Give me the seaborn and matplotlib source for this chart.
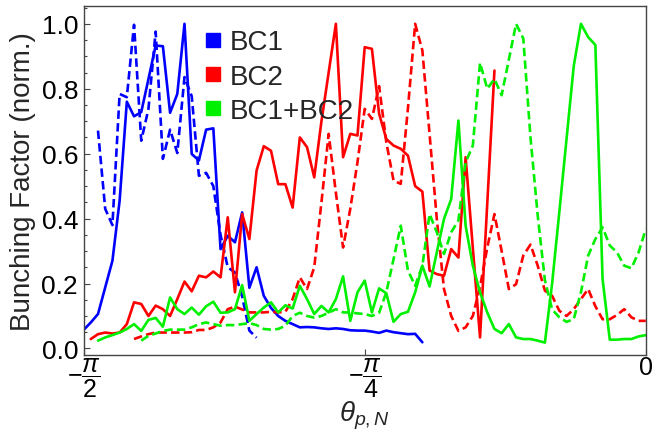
import numpy as np
import pandas as pd
import matplotlib
matplotlib.use('Agg')
import matplotlib.pyplot as plt
import seaborn as sns
from matplotlib.lines import Line2D

# theta grid: 79 samples from -pi/2 to 0
theta = np.linspace(-np.pi / 2, 0, 79)

# values (normalised bunching factor); each series
# starts at grid index *_start
bc1_start = 0
bc1 = [0.057, 0.08, 0.106, 0.188, 0.270, 0.455, 0.760, 0.715, 0.728, 0.83,
       0.933, 0.931, 0.726, 0.784, 1.0, 0.599, 0.579, 0.674, 0.678, 0.306,
       0.347, 0.327, 0.419, 0.187, 0.25, 0.162, 0.125, 0.10, 0.085, 0.075,
       0.065, 0.066, 0.065, 0.062, 0.060, 0.062, 0.060, 0.056, 0.055, 0.055,
       0.052, 0.048, 0.055, 0.050, 0.047, 0.044, 0.045, 0.019]

bc1_d_start = 2
bc1_d = [0.671, 0.43, 0.38, 0.784, 0.774, 0.997, 0.64, 0.738, 0.976, 0.584,
         0.674, 0.602, 0.836, 0.777, 0.532, 0.541, 0.50, 0.35, 0.25, 0.234,
         0.16, 0.055, 0.033]

bc2_start = 1
bc2 = [0.029, 0.044, 0.049, 0.046, 0.049, 0.075, 0.142, 0.137, 0.10, 0.132,
       0.121, 0.10, 0.152, 0.206, 0.176, 0.224, 0.219, 0.237, 0.219, 0.404,
       0.173, 0.414, 0.337, 0.548, 0.623, 0.609, 0.506, 0.506, 0.434, 0.65,
       0.62, 0.527, 0.70, 0.85, 1.0, 0.589, 0.661, 0.656, 0.928, 0.923,
       0.723, 0.645, 0.625, 0.615, 0.594, 0.50, 0.483, 0.24, 0.229, 0.224,
       0.306, 0.28, 0.589, 0.31, 0.034, 0.445, 0.856]

bc2_d_start = 7
bc2_d = [0.029, 0.037, 0.044, 0.049, 0.049, 0.049, 0.049, 0.049, 0.05, 0.057,
         0.057, 0.065, 0.08, 0.121, 0.129, 0.12, 0.111, 0.111, 0.111, 0.113,
         0.111, 0.113, 0.152, 0.219, 0.183, 0.25, 0.45, 0.661, 0.48, 0.311,
         0.43, 0.574, 0.738, 0.707, 0.808, 0.635, 0.517, 0.507, 0.74, 1.0,
         0.918, 0.66, 0.40, 0.183, 0.10, 0.054, 0.065, 0.10, 0.19, 0.31,
         0.414, 0.30, 0.183, 0.198, 0.286, 0.32, 0.255, 0.178, 0.162, 0.116,
         0.10, 0.121, 0.152, 0.183, 0.13, 0.09, 0.09, 0.103, 0.121, 0.096,
         0.085, 0.085]

both_start = 2
both = [0.024, 0.034, 0.041, 0.049, 0.06, 0.075, 0.054, 0.088, 0.094, 0.067,
        0.157, 0.121, 0.106, 0.126, 0.104, 0.13, 0.144, 0.11, 0.111, 0.121,
        0.195, 0.085, 0.106, 0.126, 0.142, 0.111, 0.133, 0.123, 0.193, 0.152,
        0.106, 0.131, 0.111, 0.152, 0.222, 0.085, 0.173, 0.209, 0.111, 0.185,
        0.17, 0.082, 0.106, 0.113, 0.173, 0.255, 0.191, 0.296, 0.399, 0.46,
        0.702, 0.378, 0.255, 0.173, 0.111, 0.06, 0.047, 0.075, 0.034, 0.029,
        0.029, 0.024, 0.018, 0.20, 0.42, 0.645, 0.87, 1.0, 0.959, 0.935,
        0.214, 0.027, 0.027, 0.029, 0.029, 0.037, 0.041]

both_d_start = 8
both_d = [0.024, 0.039, 0.046, 0.054, 0.058, 0.058, 0.058, 0.065, 0.075, 0.08,
          0.075, 0.07, 0.072, 0.072, 0.075, 0.078, 0.072, 0.06, 0.058, 0.06,
          0.07, 0.10, 0.11, 0.10, 0.095, 0.10, 0.11, 0.121, 0.111, 0.111,
          0.108, 0.106, 0.10, 0.11, 0.173, 0.275, 0.378, 0.24, 0.193, 0.255,
          0.414, 0.358, 0.291, 0.358, 0.394, 0.573, 0.625, 0.88, 0.80, 0.83,
          0.78, 0.89, 1.0, 0.955, 0.65, 0.41, 0.21, 0.12, 0.096, 0.082,
          0.09, 0.173, 0.286, 0.337, 0.373, 0.317, 0.296, 0.255, 0.247, 0.296,
          0.368]

labels = ['BC1', 'BC2', 'BC1+BC2']
colors = ['#0000ff', '#ff0000', '#00f000']

dash = (0, (3.2, 1.6))
series = [
    (bc1, bc1_start, 0, '-'),
    (bc1_d, bc1_d_start, 0, dash),
    (bc2, bc2_start, 1, '-'),
    (bc2_d, bc2_d_start, 1, dash),
    (both, both_start, 2, '-'),
    (both_d, both_d_start, 2, dash),
]

sns.set_theme(style='ticks')
plt.rcParams['font.family'] = ['Liberation Sans', 'DejaVu Sans']
plt.rcParams['mathtext.fontset'] = 'custom'
plt.rcParams['mathtext.rm'] = 'Liberation Sans'
plt.rcParams['mathtext.it'] = 'Liberation Sans:italic'

fig, ax = plt.subplots(figsize=(6.53, 4.35), dpi=100)
fig.subplots_adjust(left=0.128, right=0.989, top=0.984, bottom=0.181)

for vals, start, ci, ls in series:
    df = pd.DataFrame({'theta': theta[start:start + len(vals)], 'bf': vals})
    sns.lineplot(data=df, x='theta', y='bf', ax=ax, color=colors[ci],
                 linewidth=1.9, linestyle=ls, estimator=None, sort=False)

ax.set_xlim(-np.pi / 2, 0)
ax.set_ylim(-0.021, 1.055)
ax.set_xticks([-np.pi / 2, -np.pi / 4, 0])
ax.set_xticklabels([r'$-\dfrac{\pi}{2}$', r'$-\dfrac{\pi}{4}$', '0'])
ax.set_yticks([0.0, 0.2, 0.4, 0.6, 0.8, 1.0])
ax.set_yticklabels(['0.0', '0.2', '0.4', '0.6', '0.8', '1.0'])
ax.set_yticks(np.arange(0, 1.051, 0.05), minor=True)
ax.tick_params(axis='both', which='both', direction='in',
               colors='#444444', labelcolor='black')
ax.tick_params(axis='y', which='major', length=4.5, width=0.8, pad=4,
               labelsize=19)
ax.tick_params(axis='y', which='minor', length=2.5, width=0.8)
ax.tick_params(axis='x', which='major', length=4.5, width=0.8, pad=0,
               labelsize=18)
for s in ax.spines.values():
    s.set_color('#444444')
    s.set_linewidth(1.0)

ax.set_ylabel('Bunching Factor (norm.)', fontsize=20, labelpad=4)
ax.set_xlabel(r'$\theta_{p,N}$', fontsize=20, labelpad=0)

handles = [Line2D([], [], linestyle='none', marker='s', markersize=10,
                  markerfacecolor=c, markeredgecolor=c) for c in colors]
ax.legend(handles, labels, loc='upper left', bbox_to_anchor=(0.185, 0.965),
          frameon=False, fontsize=20, handletextpad=0.1, labelspacing=0.3,
          borderaxespad=0, handlelength=1.0)

fig.savefig('out.png', dpi=100)
